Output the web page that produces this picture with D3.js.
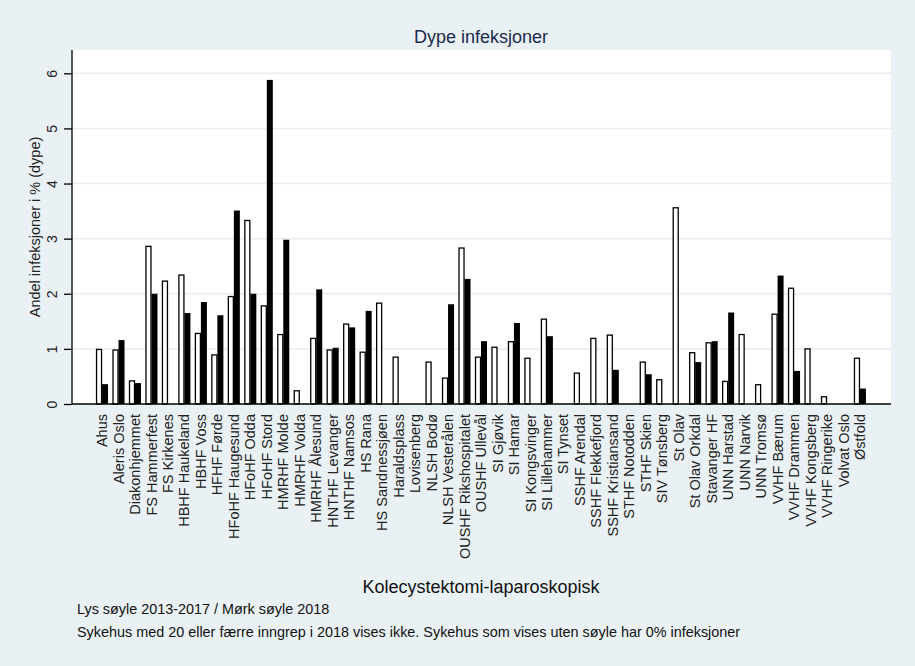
<!DOCTYPE html>
<html><head><meta charset="utf-8">
<script src="https://cdn.jsdelivr.net/npm/d3@7"></script>
<style>
html,body{margin:0;padding:0;background:#eaf1f4;}
svg{display:block;font-family:"Liberation Sans",Arial,sans-serif;}
</style></head>
<body>
<svg id="chart" width="915" height="666"></svg>
<script>
const categories = ["Ahus","Aleris Oslo","Diakonhjemmet","FS Hammerfest","FS Kirkenes","HBHF Haukeland","HBHF Voss","HFHF Førde","HFoHF Haugesund","HFoHF Odda","HFoHF Stord","HMRHF Molde","HMRHF Volda","HMRHF Ålesund","HNTHF Levanger","HNTHF Namsos","HS Rana","HS Sandnessjøen","Haraldsplass","Lovisenberg","NLSH Bodø","NLSH Vesterålen","OUSHF Rikshospitalet","OUSHF Ullevål","SI Gjøvik","SI Hamar","SI Kongsvinger","SI Lillehammer","SI Tynset","SSHF Arendal","SSHF Flekkefjord","SSHF Kristiansand","STHF Notodden","STHF Skien","SIV Tønsberg","St Olav","St Olav Orkdal","Stavanger HF","UNN Harstad","UNN Narvik","UNN Tromsø","VVHF Bærum","VVHF Drammen","VVHF Kongsberg","VVHF Ringerike","Volvat Oslo","Østfold"];
const values2013_2017 = [0.99,0.98,0.42,2.86,2.23,2.34,1.28,0.89,1.95,3.33,1.78,1.26,0.24,1.19,0.98,1.45,0.94,1.83,0.85,0,0.76,0.47,2.83,0.85,1.03,1.13,0.83,1.54,0,0.56,1.19,1.25,0,0.76,0.44,3.56,0.93,1.11,0.41,1.26,0.35,1.63,2.10,1.00,0.13,0,0.83];
const values2018 = [0.36,1.16,0.38,2.00,0,1.65,1.85,1.61,3.51,2.00,5.88,2.98,0,2.08,1.02,1.39,1.69,0,0,0,0,1.81,2.27,1.14,0,1.47,0,1.23,0,0,0,0.62,0,0.54,0,0,0.76,1.14,1.66,0,0,2.33,0.60,0,0,0,0.28];
const yTicks = [0,1,2,3,4,5,6];
const titleText = "Dype infeksjoner";
const yTitle = "Andel infeksjoner i % (dype)";
const xTitle = "Kolecystektomi-laparoskopisk";
const notes = ["Lys søyle 2013-2017 / Mørk søyle 2018","Sykehus med 20 eller færre inngrep i 2018 vises ikke. Sykehus som vises uten søyle har 0% infeksjoner"];

const svg = d3.select("#chart");
const W = 915, H = 666;
svg.append("rect").attr("width",W).attr("height",H).attr("fill","#eaf1f4");

const plot = {left:72, right:891, top:50, bottom:404};
const y = d3.scaleLinear().domain([0,6]).range([404,73.3]);
const x = d3.scaleBand().domain(categories).range([93.8,868.2]).padding(0);
const sub = d3.scaleBand().domain(["a","b"]).range([-6,6]);

svg.append("rect").attr("x",plot.left).attr("y",plot.top)
  .attr("width",plot.right-plot.left).attr("height",plot.bottom-plot.top).attr("fill","#ffffff");

// gridlines
svg.append("g").selectAll("line").data(yTicks.filter(d=>d>0)).join("line")
  .attr("x1",plot.left).attr("x2",plot.right)
  .attr("y1",d=>y(d)).attr("y2",d=>y(d))
  .attr("stroke","#e6eef1").attr("stroke-width",1.5);

const rows = categories.map((c,i)=>({c, a:values2013_2017[i], b:values2018[i]}));
const cx = c => x(c) + x.bandwidth()/2;

// light bars
svg.append("g").selectAll("rect").data(rows.filter(d=>d.a>0)).join("rect")
  .attr("x",d=>cx(d.c)+sub("a")+0.5)
  .attr("width",sub.bandwidth()-1)
  .attr("y",d=>y(d.a))
  .attr("height",d=>y(0)-y(d.a))
  .attr("fill","#ffffff").attr("stroke","#000").attr("stroke-width",1.3);
// dark bars
svg.append("g").selectAll("rect").data(rows.filter(d=>d.b>0)).join("rect")
  .attr("x",d=>cx(d.c)+sub("b"))
  .attr("width",sub.bandwidth())
  .attr("y",d=>y(d.b))
  .attr("height",d=>y(0)-y(d.b))
  .attr("fill","#000");

// y axis
const yAxis = d3.axisLeft(y).tickValues(yTicks).tickSize(8).tickFormat(d3.format("d"));
const gy = svg.append("g").attr("transform",`translate(${plot.left},0)`).call(yAxis);
gy.select(".domain").remove();
gy.append("line").attr("x1",0).attr("x2",0).attr("y1",plot.top).attr("y2",plot.bottom).attr("stroke","#000").attr("stroke-width",1.3);
gy.selectAll(".tick line").attr("stroke","#000").attr("stroke-width",1.3);
gy.selectAll(".tick text").remove();
gy.selectAll(".tick").append("text")
  .attr("transform","translate(-15,0) rotate(-90)")
  .attr("text-anchor","middle").attr("x",0).attr("y",0)
  .attr("fill","#222").attr("font-size",14).attr("stroke","none")
  .text(d=>d3.format("d")(d));

// x axis
const xAxis = d3.axisBottom(x).tickSize(0).tickPadding(0);
const gx = svg.append("g").attr("transform",`translate(0,${plot.bottom})`).call(xAxis);
gx.select(".domain").remove();
gx.append("line").attr("x1",plot.left).attr("x2",plot.right).attr("y1",0).attr("y2",0).attr("stroke","#000").attr("stroke-width",1.3);
gx.selectAll(".tick text").attr("fill","#222").attr("font-size",14.5)
  .attr("text-anchor","end").attr("y",0).attr("dy","0.35em")
  .attr("transform","translate(0,10) rotate(-90)");

// titles
svg.append("text").attr("x",481).attr("y",43).attr("text-anchor","middle")
  .attr("font-size",18).attr("fill","#1a2a50").text(titleText);
svg.append("text").attr("transform","translate(40,227) rotate(-90)").attr("text-anchor","middle")
  .attr("font-size",14.5).attr("fill","#222").text(yTitle);
svg.append("text").attr("x",481).attr("y",593).attr("text-anchor","middle")
  .attr("font-size",18).attr("fill","#111").text(xTitle);
svg.append("g").selectAll("text").data(notes).join("text")
  .attr("x",77).attr("y",(d,i)=>614+i*23).attr("font-size",14.4).attr("fill","#111").text(d=>d);
</script>
</body></html>
